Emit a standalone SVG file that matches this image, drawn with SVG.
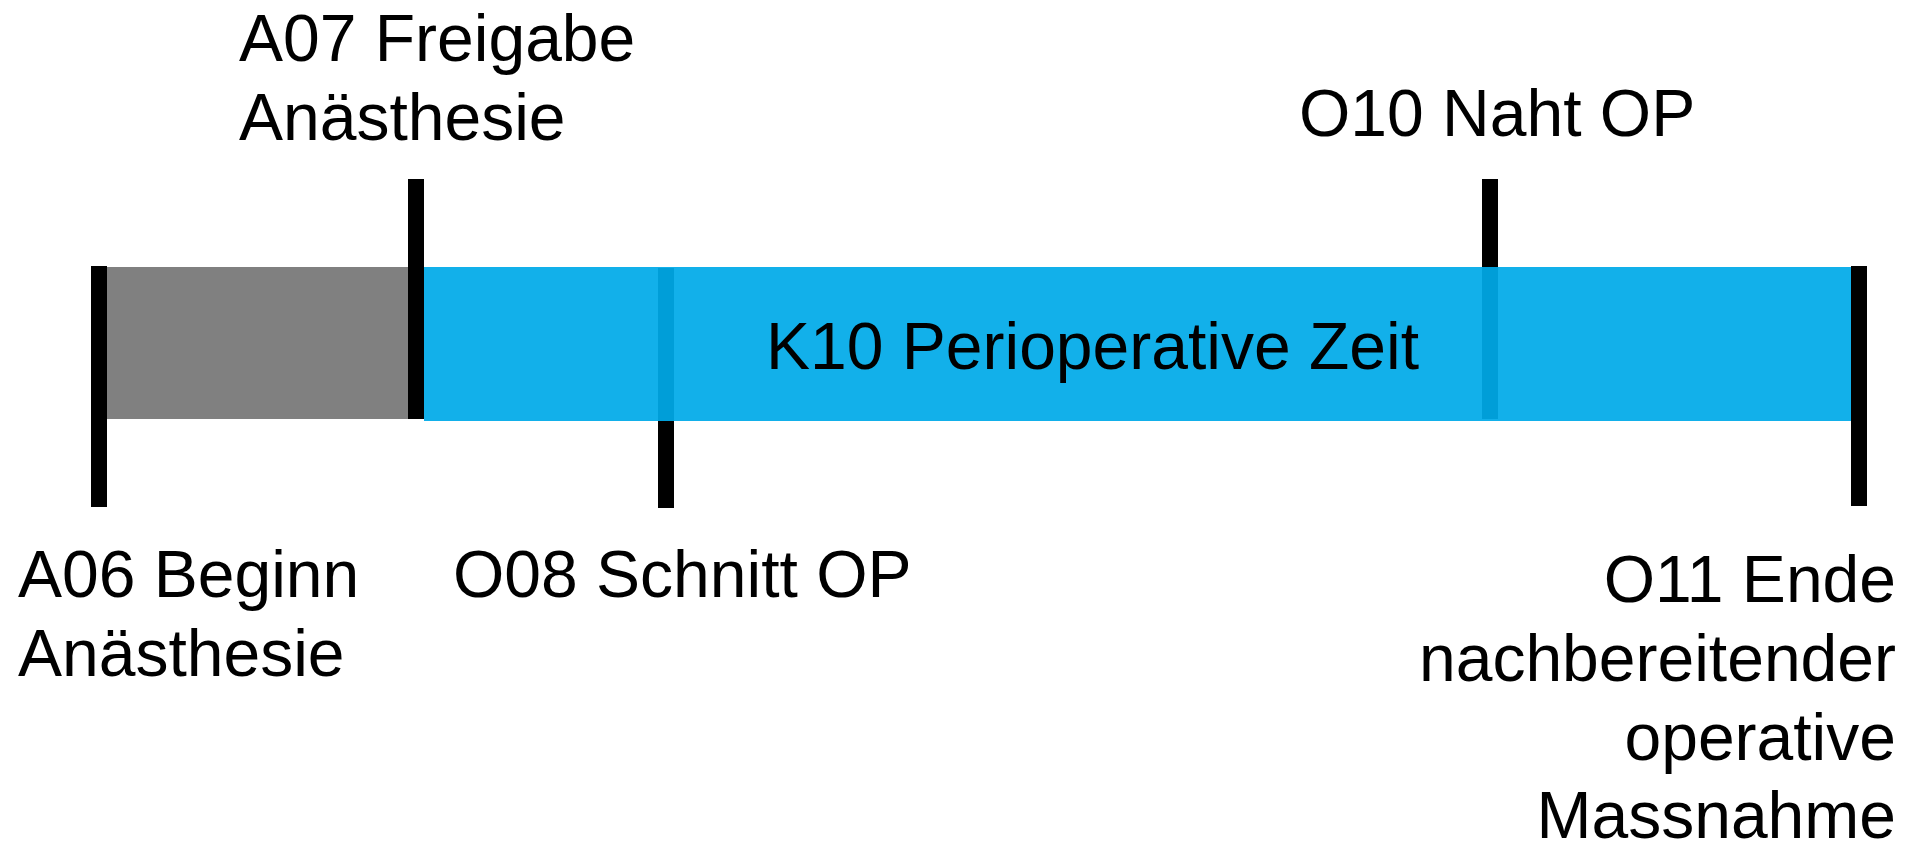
<svg xmlns="http://www.w3.org/2000/svg" width="1909" height="845" viewBox="0 0 1909 845">
  <style>
    .lbl { font-family: "Liberation Sans", Arial, Helvetica, sans-serif; font-size: 66px; fill: #000000; }
    .tick { fill: #000000; }
    .end { text-anchor: end; }
  </style>
  <rect x="0" y="0" width="1909" height="845" fill="#ffffff"/>
  <g id="anaesthesia-bar">
    <rect x="107" y="267" width="301" height="152" fill="#808080"/>
  </g>
  <g id="A06">
    <rect class="tick" x="91" y="266" width="16" height="241"/>
    <text class="lbl" x="18" y="597">A06 Beginn</text>
    <text class="lbl" x="18" y="676">Anästhesie</text>
  </g>
  <g id="A07">
    <rect class="tick" x="408" y="179" width="16" height="240"/>
    <text class="lbl" x="239" y="61">A07 Freigabe</text>
    <text class="lbl" x="239" y="140">Anästhesie</text>
  </g>
  <g id="O08">
    <rect class="tick" x="658" y="268" width="16" height="240"/>
    <text class="lbl" x="453" y="597">O08 Schnitt OP</text>
  </g>
  <g id="O10">
    <rect class="tick" x="1482" y="179" width="16" height="240"/>
    <text class="lbl" x="1299" y="136">O10 Naht OP</text>
  </g>
  <g id="K10">
    <rect x="424" y="267" width="1427" height="154" fill="#00AAE8" fill-opacity="0.93"/>
    <text class="lbl" x="766" y="369">K10 Perioperative Zeit</text>
  </g>
  <g id="O11">
    <rect class="tick" x="1851" y="266" width="16" height="240"/>
    <text class="lbl end" x="1896" y="602">O11 Ende</text>
    <text class="lbl end" x="1896" y="681">nachbereitender</text>
    <text class="lbl end" x="1896" y="760">operative</text>
    <text class="lbl end" x="1896" y="838">Massnahme</text>
  </g>
  <g id="connectors"/>
</svg>
